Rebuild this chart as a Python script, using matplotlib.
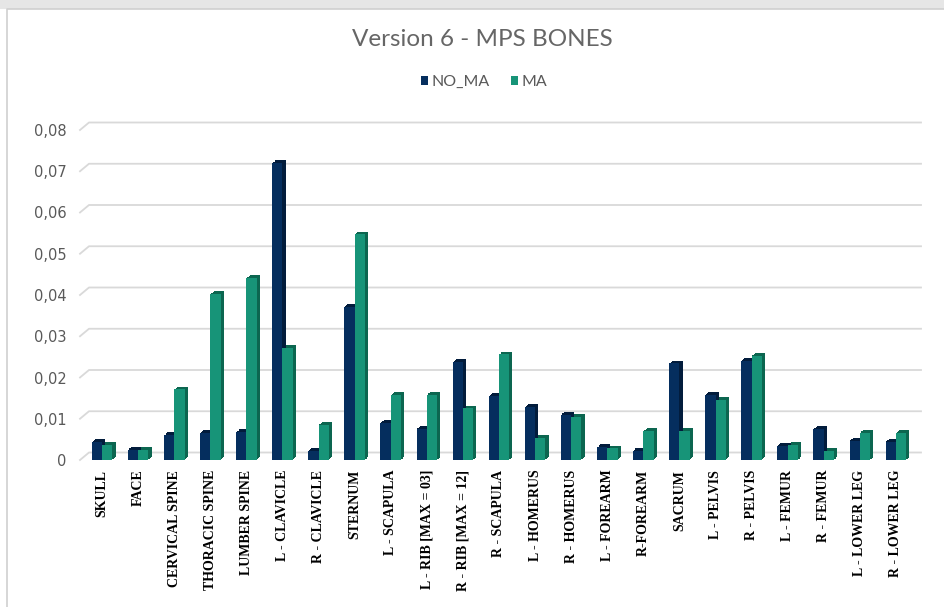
import numpy as np
import matplotlib
matplotlib.use("Agg")
import matplotlib.pyplot as plt
import matplotlib.transforms as mtransforms
from matplotlib.lines import Line2D
from matplotlib.patches import Rectangle

# ── Data ─────────────────────────────────────────────────────────────────────
CATEGORIES = ["SKULL", "FACE", "CERVICAL SPINE", "THORACIC SPINE", "LUMBER SPINE",
              "L - CLAVICLE", "R - CLAVICLE", "STERNUM", "L - SCAPULA",
              "L - RIB [MAX = 03]", "R - RIB [MAX = 12]", "R - SCAPULA",
              "L - HOMERUS", "R - HOMERUS", "L - FOREARM", "R-FOREARM", "SACRUM",
              "L - PELVIS", "R - PELVIS", "L - FEMUR", "R - FEMUR",
              "L - LOWER LEG", "R - LOWER LEG"]
NO_MA = [0.0043, 0.0025, 0.0060, 0.0065, 0.0068, 0.0720, 0.0023, 0.0372, 0.0090,
         0.0075, 0.0237, 0.0155, 0.0128, 0.0110, 0.0031, 0.0023, 0.0234,
         0.0158, 0.0241, 0.0035, 0.0075, 0.0047, 0.0044]
MA = [0.0037, 0.0025, 0.0171, 0.0402, 0.0441, 0.0272, 0.0085, 0.0547, 0.0157,
      0.0158, 0.0125, 0.0256, 0.0053, 0.0105, 0.0028, 0.0070, 0.0070,
      0.0145, 0.0252, 0.0037, 0.0022, 0.0066, 0.0066]
Y_TICKS = [0, 0.01, 0.02, 0.03, 0.04, 0.05, 0.06, 0.07, 0.08]
Y_LABELS = ["0", "0,01", "0,02", "0,03", "0,04", "0,05", "0,06", "0,07", "0,08"]

# ── Style ─────────────────────────────────────────────────────────────────────
NAVY, NAVY_SIDE = "#052E5E", "#021C3C"
TEAL, TEAL_SIDE = "#179478", "#0C6650"
GRID = "#D9D9D9"
TXT = "#595959"

W, H = 944, 607
fig = plt.figure(figsize=(W / 100, H / 100), dpi=100)
PIX = mtransforms.IdentityTransform()  # display pixels, origin bottom-left

# front plane of the plot (pixels from the top-left)
X0, X1 = 84, 914
Y0, Y1 = 460, 130
ax = fig.add_axes([X0 / W, 1 - Y0 / H, (X1 - X0) / W, (Y0 - Y1) / H])
ax.set_xlim(-0.5, len(CATEGORIES) - 0.5)
ax.set_ylim(0, 0.08)
ax.patch.set_visible(False)
for s in ax.spines.values():
    s.set_visible(False)

x = np.arange(len(CATEGORIES))
bw = 0.285

# back-wall gridlines with a short slanted floor edge at the left
DY = 7.5
for v in Y_TICKS:
    fx, fy = ax.transData.transform((-0.5, v))
    rx = ax.transData.transform((len(CATEGORIES) - 0.5, v))[0] + 7
    ax.add_line(Line2D([fx - 4, fx + 5, rx], [fy, fy + DY, fy + DY], transform=PIX,
                       color=GRID, lw=1.3, zorder=0, clip_on=False))

# bars with a fake 3D depth: darker copies stepped up/right behind the front face
for k in range(1, 5):
    off = mtransforms.offset_copy(ax.transData, fig=fig, x=k * 0.8, y=k * 0.7, units="dots")
    ax.bar(x - bw / 2, NO_MA, bw, color=NAVY_SIDE, transform=off, zorder=2, lw=0)
    ax.bar(x + bw / 2, MA, bw, color=TEAL_SIDE, transform=off, zorder=2, lw=0)
ax.bar(x - bw / 2, NO_MA, bw, color=NAVY, zorder=3, lw=0, label="NO_MA")
ax.bar(x + bw / 2, MA, bw, color=TEAL, zorder=3, lw=0, label="MA")

ax.set_xticks(x)
ax.set_xticklabels(CATEGORIES, rotation=90, fontfamily="Liberation Serif",
                   fontweight="bold", fontsize=10, color="black", va="top")
ax.set_yticks(Y_TICKS)
ax.set_yticklabels(Y_LABELS, fontsize=10.5, color=TXT)
ax.tick_params(axis="x", length=0, pad=7)
ax.tick_params(axis="y", length=0, pad=12.5)

fig.text(482 / W, 1 - 40 / H, "Version 6 - MPS BONES", ha="center", va="center",
         fontsize=17.5, color="#666666", fontfamily="Lato")

leg = fig.legend(loc="center", bbox_to_anchor=(484 / W, 1 - 82 / H), ncol=2,
                 frameon=False, fontsize=11.5, handlelength=0.45, handleheight=0.45,
                 handletextpad=0.2, columnspacing=1.3, borderaxespad=0)
for t in leg.get_texts():
    t.set_color(TXT)
    t.set_fontfamily("Lato")

# chart frame: grey strip above, thin border on the left and top
fig.add_artist(Rectangle((0, H - 9), W, 9, transform=PIX, color="#E6E6E6", lw=0))
fig.add_artist(Line2D([7, 7, W], [0, H - 9, H - 9], transform=PIX,
                      color="#D0D0D0", lw=1.2))

fig.savefig("out.png", dpi=100)
